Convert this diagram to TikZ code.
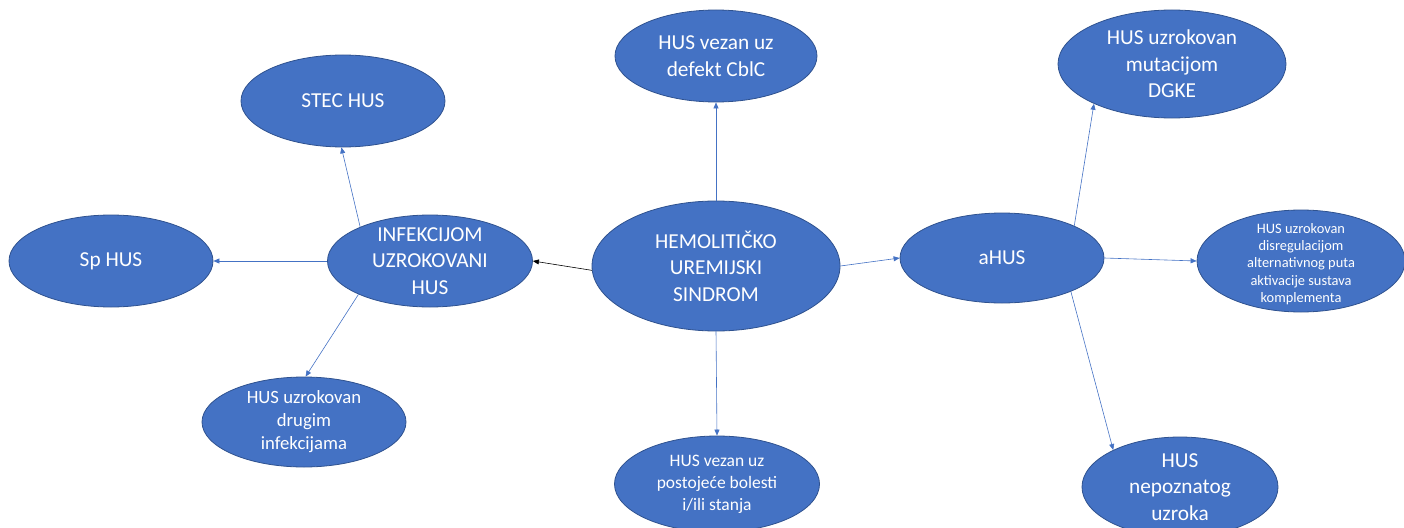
\documentclass[tikz,border=0pt]{standalone}
\usepackage{fontspec}
\setmainfont{Carlito}
\usetikzlibrary{shapes.geometric,arrows.meta}
\definecolor{fillb}{HTML}{4472C4}
\definecolor{edgeb}{HTML}{2F528F}
\definecolor{lineb}{HTML}{4472C4}
\begin{document}
\begin{tikzpicture}[x=1pt,y=-1pt,
  ell/.style={ellipse, draw=edgeb, line width=0.8pt, fill=fillb, inner sep=0pt},
  txtA/.style={text=white, align=center, inner sep=0pt, font=\fontsize{21.3}{26.5}\selectfont},
  txtB/.style={text=white, align=center, inner sep=0pt, font=\fontsize{18.7}{23}\selectfont},
  txtC/.style={text=white, align=center, inner sep=0pt, font=\fontsize{17.5}{22}\selectfont},
  txtD/.style={text=white, align=center, inner sep=0pt, yshift=-3pt, font=\fontsize{14.4}{17.2}\selectfont},
  conn/.style={draw=lineb, line width=0.6pt, -{Triangle[width=5pt,length=6pt]}},
  connk/.style={draw=black, line width=0.6pt, -{Triangle[width=5pt,length=6pt]}},
  ]
\useasboundingbox (0,0) rectangle (1404,527);

\node[ell, minimum width=248pt, minimum height=130pt,
  label={[txtA]center:HEMOLITIČKO\\UREMIJSKI\\SINDROM}] (hus) at (716,266) {};
\node[ell, minimum width=202pt, minimum height=92pt,
  label={[txtA]center:HUS vezan uz\\defekt CblC}] (cblc) at (716,56) {};
\node[ell, minimum width=204pt, minimum height=92pt,
  label={[txtA]center:STEC HUS}] (stec) at (343,101) {};
\node[ell, minimum width=205pt, minimum height=92pt,
  label={[txtA]center:INFEKCIJOM\\UZROKOVANI\\HUS}] (inf) at (430,261) {};
\node[ell, minimum width=204pt, minimum height=92pt,
  label={[txtA]center:Sp HUS}] (sp) at (111,261) {};
\node[ell, minimum width=204pt, minimum height=90pt,
  label={[txtB]center:HUS uzrokovan\\drugim\\infekcijama}] (drug) at (304,422) {};
\node[ell, minimum width=205pt, minimum height=96pt,
  label={[txtC]center:HUS vezan uz\\postojeće bolesti\\i/ili stanja}] (post) at (717,484) {};
\node[ell, minimum width=204pt, minimum height=90pt,
  label={[txtA]center:aHUS}] (ahus) at (1002,258) {};
\node[ell, minimum width=228pt, minimum height=108pt,
  label={[txtA]center:HUS uzrokovan\\mutacijom\\DGKE}] (dgke) at (1172,64) {};
\node[ell, minimum width=208pt, minimum height=102pt,
  label={[txtD]center:HUS uzrokovan\\disregulacijom\\alternativnog puta\\aktivacije sustava\\komplementa}] (disreg) at (1301,261) {};
\node[ell, minimum width=196pt, minimum height=100pt,
  label={[txtA]center:HUS\\nepoznatog\\uzroka}] (nep) at (1180,487) {};

\draw[conn] (hus.90) -- (cblc.270);
\draw[conn] (hus.270) -- (post.90);
\draw[connk] (hus.182) -- (inf.0);
\draw[conn] (hus.0) -- (ahus.180);
\draw[conn] (inf.154.7) -- (stec.268);
\draw[conn] (inf.180) -- (sp.0);
\draw[conn] (inf.205.3) -- (drug.88);
\draw[conn] (ahus.24.9) -- (dgke.207);
\draw[conn] (ahus.0) -- (disreg.180);
\draw[conn] (ahus.334.4) -- (nep.151.8);
\end{tikzpicture}
\end{document}
